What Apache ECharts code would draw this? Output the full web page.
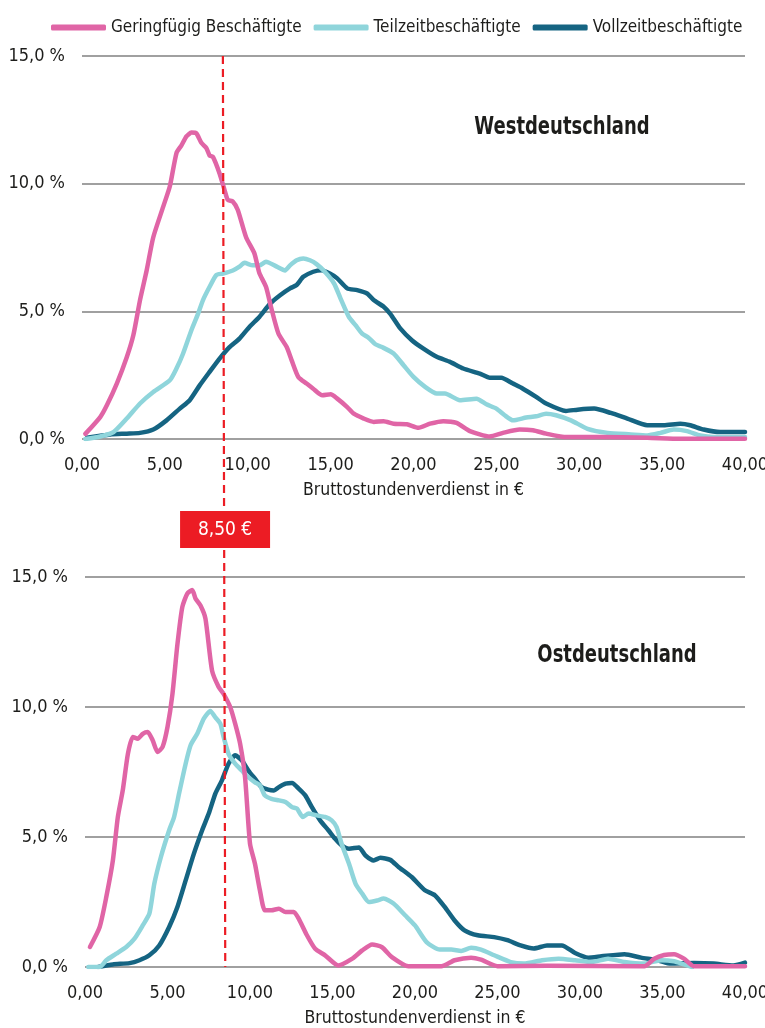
<!DOCTYPE html>
<html>
<head>
<meta charset="utf-8">
<script src="https://cdn.jsdelivr.net/npm/echarts@6/dist/echarts.min.js"></script>
<style>
  html, body { margin: 0; padding: 0; background: #fff; overflow: hidden; }
  #chart { width: 765px; height: 1028px; }
</style>
</head>
<body>
<div id="chart"></div>
<script>
// ---------- Data (x = Bruttostundenverdienst in €, y = Anteil in %) ----------
const seriesNames = ['Geringfügig Beschäftigte', 'Teilzeitbeschäftigte', 'Vollzeitbeschäftigte'];
const panelTitles = ['Westdeutschland', 'Ostdeutschland'];
const xTicks = [0, 5, 10, 15, 20, 25, 30, 35, 40];
const yTicks = [0, 5, 10, 15];
const mindestlohn = 8.5;
const mindestlohnLabel = '8,50 €';
const xAxisTitle = 'Bruttostundenverdienst in €';

const westGering = [[0.2,0.2],[1.1,0.86],[1.5,1.32],[2.1,2.17],[2.7,3.2],[3.1,4.07],[3.5,5.44],[3.9,6.6],[4.3,7.9],[4.9,9.1],[5.3,9.9],[5.7,11.2],[6.0,11.5],[6.3,11.85],[6.6,12.0],[6.9,11.97],[7.2,11.6],[7.5,11.4],[7.7,11.1],[7.9,11.05],[8.3,10.4],[8.6,9.75],[8.8,9.36],[9.1,9.3],[9.4,8.97],[9.9,7.9],[10.4,7.27],[10.7,6.5],[11.1,5.96],[11.4,5.18],[11.85,4.13],[12.35,3.6],[12.65,3.08],[13.05,2.43],[13.55,2.17],[13.95,1.97],[14.5,1.71],[15.0,1.75],[15.4,1.58],[16.0,1.25],[16.4,0.99],[17.0,0.8],[17.6,0.67],[18.2,0.7],[18.8,0.6],[19.6,0.58],[20.3,0.44],[21.0,0.6],[21.8,0.7],[22.6,0.63],[23.4,0.31],[24.6,0.1],[25.4,0.24],[26.4,0.37],[27.2,0.34],[28.0,0.21],[29.1,0.08],[31.1,0.08],[34.1,0.05],[36.1,0.01],[40,0.01]];
const westTeilzeit = [[0.2,0],[1.1,0.1],[1.9,0.27],[2.7,0.8],[3.5,1.39],[4.3,1.84],[5.3,2.3],[5.7,2.76],[6.1,3.35],[6.6,4.26],[7.0,4.9],[7.3,5.44],[7.7,5.96],[8.1,6.42],[8.5,6.48],[9.1,6.6],[9.5,6.75],[9.8,6.9],[10.3,6.8],[10.7,6.8],[11.1,6.94],[11.75,6.75],[12.25,6.6],[12.55,6.8],[12.95,7.0],[13.35,7.07],[13.75,7.0],[14.15,6.85],[14.65,6.55],[15.2,6.1],[15.6,5.5],[16.1,4.78],[16.5,4.46],[16.9,4.13],[17.3,3.96],[17.7,3.71],[18.1,3.6],[18.8,3.35],[19.4,2.89],[20.0,2.43],[20.7,2.04],[21.4,1.78],[21.9,1.78],[22.8,1.52],[23.8,1.58],[24.4,1.36],[25.0,1.19],[25.5,0.93],[26.0,0.73],[26.8,0.84],[27.4,0.89],[28.0,0.99],[28.6,0.93],[29.5,0.73],[30.5,0.4],[31.7,0.24],[33.1,0.18],[34.1,0.14],[34.9,0.24],[35.7,0.37],[36.5,0.31],[37.3,0.14],[38.1,0.08],[40,0.08]];
const westVollzeit = [[0.3,0.05],[1.7,0.18],[2.7,0.21],[3.5,0.24],[4.3,0.37],[5.1,0.73],[5.9,1.19],[6.5,1.52],[7.1,2.1],[7.7,2.63],[8.3,3.15],[8.9,3.6],[9.5,3.93],[10.1,4.39],[10.7,4.78],[11.35,5.3],[11.95,5.63],[12.55,5.9],[12.95,6.03],[13.35,6.35],[13.95,6.55],[14.45,6.61],[14.95,6.48],[15.4,6.29],[16.0,5.9],[16.6,5.83],[17.2,5.7],[17.6,5.44],[18.2,5.18],[18.6,4.9],[19.2,4.33],[19.9,3.87],[20.6,3.54],[21.4,3.22],[22.2,3.02],[23.0,2.76],[24.0,2.56],[24.6,2.4],[25.3,2.4],[26.0,2.17],[26.6,1.97],[27.4,1.65],[28.0,1.39],[29.2,1.1],[29.9,1.15],[30.9,1.19],[31.9,1.02],[32.9,0.8],[34.1,0.54],[35.1,0.54],[36.1,0.6],[36.7,0.54],[37.5,0.37],[38.5,0.27],[40,0.27]];

const ostGering = [[0.3,0.77],[0.89,1.54],[1.29,2.69],[1.69,4.1],[1.99,5.77],[2.29,6.8],[2.6,8.2],[2.9,8.85],[3.2,8.78],[3.5,8.97],[3.8,9.04],[4.1,8.72],[4.4,8.27],[4.7,8.46],[5.0,9.23],[5.3,10.5],[5.6,12.4],[5.9,13.85],[6.2,14.36],[6.5,14.5],[6.7,14.17],[7.0,13.9],[7.3,13.4],[7.7,11.4],[8.1,10.77],[8.4,10.5],[8.8,10.0],[9.1,9.36],[9.4,8.59],[9.7,7.3],[10.0,4.74],[10.3,3.97],[10.6,2.95],[10.9,2.18],[11.3,2.18],[11.75,2.24],[12.15,2.12],[12.65,2.12],[12.95,1.86],[13.45,1.22],[13.95,0.7],[14.55,0.45],[15.35,0.06],[16.2,0.32],[16.8,0.64],[17.4,0.87],[18.0,0.76],[18.6,0.38],[19.6,0.03],[21.6,0.03],[22.4,0.26],[23.4,0.36],[24.0,0.28],[25.0,0.03],[28.0,0.05],[33.9,0.03],[34.5,0.32],[35.1,0.46],[35.7,0.49],[36.3,0.32],[36.9,0.03],[40,0.03]];
const ostTeilzeit = [[0.2,0],[0.89,0],[1.29,0.26],[1.89,0.51],[2.5,0.77],[3.0,1.09],[3.5,1.6],[3.9,2.05],[4.2,3.2],[4.6,4.23],[5.1,5.26],[5.4,5.77],[5.7,6.67],[6.1,7.82],[6.4,8.53],[6.8,8.97],[7.2,9.55],[7.6,9.85],[7.9,9.6],[8.2,9.36],[8.4,8.85],[8.7,8.2],[9.1,7.82],[9.5,7.56],[9.9,7.3],[10.3,7.1],[10.6,6.99],[10.9,6.6],[11.3,6.47],[11.75,6.41],[12.15,6.35],[12.55,6.15],[12.85,6.09],[13.2,5.77],[13.55,5.9],[14.05,5.83],[14.55,5.77],[14.95,5.64],[15.25,5.38],[15.55,4.74],[16.0,3.97],[16.4,3.2],[16.8,2.82],[17.2,2.5],[17.7,2.56],[18.1,2.63],[18.7,2.44],[19.4,1.99],[20.0,1.6],[20.7,0.96],[21.5,0.67],[22.2,0.67],[22.8,0.62],[23.4,0.74],[24.0,0.67],[24.8,0.45],[25.8,0.19],[26.6,0.13],[27.7,0.26],[28.7,0.32],[29.7,0.26],[30.7,0.19],[31.7,0.32],[32.7,0.19],[33.9,0.13],[34.9,0.26],[35.7,0.22],[36.3,0.1],[36.8,0]];
const ostVollzeit = [[0.8,0],[1.69,0.1],[2.7,0.15],[3.3,0.26],[3.9,0.45],[4.5,0.83],[5.1,1.54],[5.6,2.31],[6.1,3.33],[6.6,4.36],[7.1,5.26],[7.5,5.9],[7.9,6.67],[8.3,7.18],[8.7,7.82],[9.1,8.14],[9.5,7.95],[9.9,7.56],[10.3,7.24],[10.7,6.92],[11.1,6.82],[11.45,6.79],[11.75,6.92],[12.15,7.05],[12.55,7.08],[12.95,6.86],[13.35,6.6],[13.75,6.15],[14.25,5.64],[14.75,5.26],[15.15,4.94],[15.55,4.68],[16.0,4.55],[16.6,4.6],[17.0,4.29],[17.5,4.1],[17.9,4.2],[18.5,4.12],[19.0,3.85],[19.8,3.46],[20.6,2.95],[21.2,2.76],[21.8,2.31],[22.4,1.79],[23.0,1.41],[23.8,1.22],[24.8,1.15],[25.6,1.03],[26.4,0.83],[27.2,0.71],[28.0,0.83],[28.9,0.83],[29.7,0.54],[30.5,0.36],[31.3,0.41],[32.7,0.49],[33.7,0.36],[34.7,0.26],[35.5,0.13],[36.9,0.15],[38.1,0.13],[39.3,0.06],[40,0.17]];

// ---------- Styling ----------
const FONT = '"DejaVu Sans Condensed", "DejaVu Sans", sans-serif';
const colors = { gering: '#e065a6', teil: '#8fd5db', voll: '#156482' };
const TEXT = '#1d1d1b';
const GRID = '#808080';

const grids = [
  { left: 82, right: 20, top: 56, height: 383, outerBoundsMode: 'none', containLabel: false },
  { left: 85, right: 20, top: 577, height: 390, outerBoundsMode: 'none', containLabel: false }
];

function xAxisFor(i) {
  return {
    type: 'value', gridIndex: i, min: xTicks[0], max: xTicks[xTicks.length - 1], interval: 5,
    axisLine: { show: false }, axisTick: { show: false }, splitLine: { show: false },
    axisLabel: { margin: 17, color: TEXT, fontFamily: FONT, fontSize: 18,
      formatter: v => v.toFixed(2).replace('.', ',') },
    name: xAxisTitle, nameLocation: 'middle', nameGap: 42,
    nameTextStyle: { color: TEXT, fontFamily: FONT, fontSize: 17.5 }
  };
}
function yAxisFor(i) {
  return {
    type: 'value', gridIndex: i, min: yTicks[0], max: yTicks[yTicks.length - 1], interval: 5,
    axisLine: { show: false }, axisTick: { show: false },
    splitLine: { show: true, lineStyle: { color: GRID, width: 1.6 } },
    axisLabel: { margin: 17, color: TEXT, fontFamily: FONT, fontSize: 18,
      formatter: v => v.toFixed(1).replace('.', ',') + ' %' }
  };
}
function lineSeries(name, data, color, idx, z) {
  return {
    type: 'line', name, data, xAxisIndex: idx, yAxisIndex: idx,
    showSymbol: false, smooth: 0.2, z,
    lineStyle: { color, width: 4.5, cap: 'round', join: 'round' },
    itemStyle: { color }, emphasis: { disabled: true }
  };
}

const chart = echarts.init(document.getElementById('chart'), null, { renderer: 'canvas', width: 765, height: 1028 });
chart.setOption({
  animation: false,
  backgroundColor: '#ffffff',
  legend: {
    data: seriesNames, left: 46, top: 14, itemWidth: 55, itemHeight: 6, itemGap: 12,
    icon: 'roundRect', width: 760,
    textStyle: { color: TEXT, fontFamily: FONT, fontSize: 17 }
  },
  grid: grids,
  xAxis: [xAxisFor(0), xAxisFor(1)],
  yAxis: [yAxisFor(0), yAxisFor(1)],
  series: [
    lineSeries(seriesNames[2], westVollzeit, colors.voll, 0, 2),
    lineSeries(seriesNames[1], westTeilzeit, colors.teil, 0, 3),
    lineSeries(seriesNames[0], westGering, colors.gering, 0, 4),
    lineSeries(seriesNames[2], ostVollzeit, colors.voll, 1, 2),
    lineSeries(seriesNames[1], ostTeilzeit, colors.teil, 1, 3),
    lineSeries(seriesNames[0], ostGering, colors.gering, 1, 4)
  ]
});

// Mindestlohn-Linie across both panels, positioned through the axes
const xTop = chart.convertToPixel({ xAxisIndex: 0 }, mindestlohn);
const xBot = chart.convertToPixel({ xAxisIndex: 1 }, mindestlohn);
const yTop = chart.convertToPixel({ yAxisIndex: 0 }, yTicks[yTicks.length - 1]);
const yBot = chart.convertToPixel({ yAxisIndex: 1 }, yTicks[0]);
const xMid = (xTop + xBot) / 2;

chart.setOption({
  graphic: [
    { type: 'line', z: 10, shape: { x1: xTop, y1: yTop, x2: xBot, y2: yBot },
      style: { stroke: '#ec1c24', lineWidth: 2.2, lineDash: [8, 5] } },
    { type: 'rect', z: 11, shape: { x: xMid - 44, y: 511, width: 90, height: 37 },
      style: { fill: '#ec1c24' } },
    { type: 'text', z: 12, x: xMid + 1, y: 530,
      style: { text: mindestlohnLabel, fill: '#ffffff', font: '19px ' + FONT,
        textAlign: 'center', textVerticalAlign: 'middle' } },
    { type: 'text', z: 12, x: 562, y: 127, scaleX: 0.8,
      style: { text: panelTitles[0], fill: TEXT, font: 'bold 25px ' + FONT,
        textAlign: 'center', textVerticalAlign: 'middle' } },
    { type: 'text', z: 12, x: 617, y: 655, scaleX: 0.8,
      style: { text: panelTitles[1], fill: TEXT, font: 'bold 25px ' + FONT,
        textAlign: 'center', textVerticalAlign: 'middle' } }
  ]
});
</script>
</body>
</html>
